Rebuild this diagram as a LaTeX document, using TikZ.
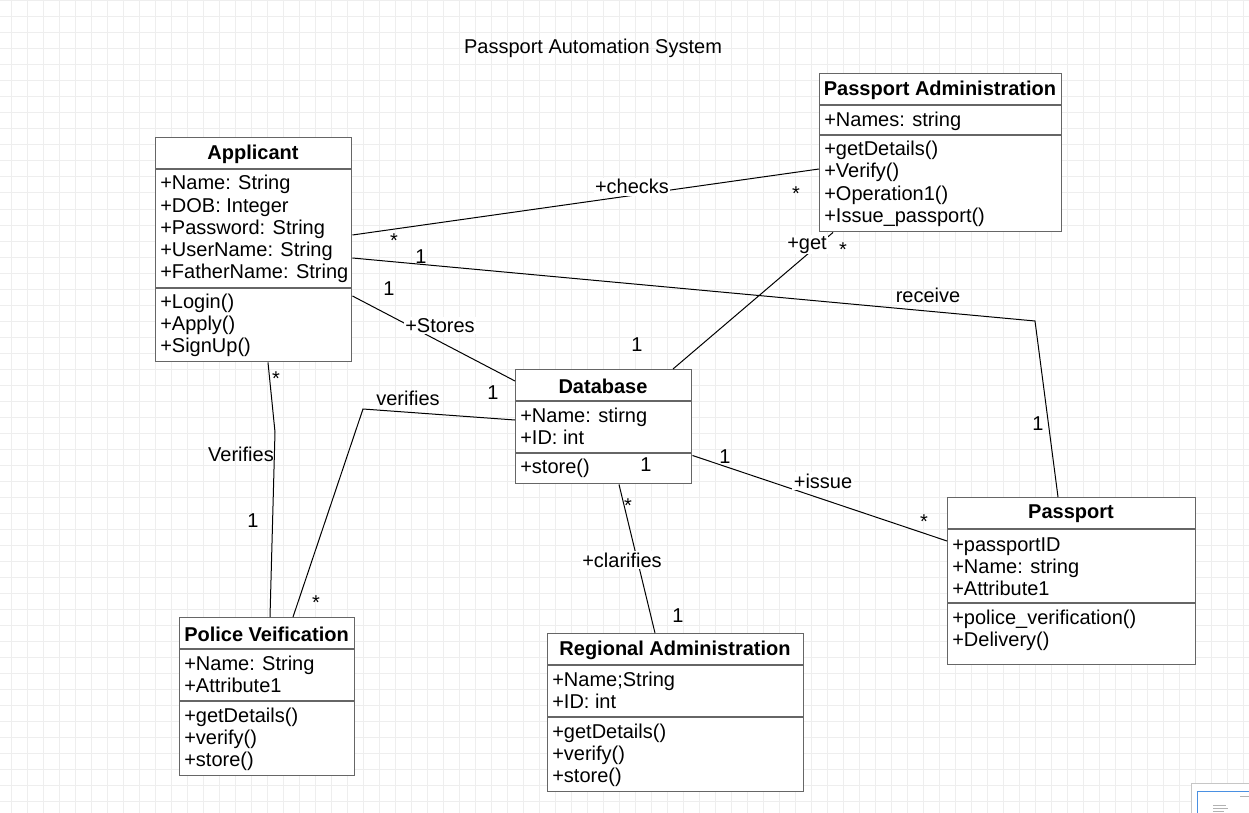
\documentclass[tikz,border=0pt]{standalone}
\usepackage{fontspec}
\setmainfont{Liberation Sans}
\usetikzlibrary{calc}
\definecolor{gridc}{HTML}{EEEEEE}
\definecolor{boxc}{HTML}{666666}
\definecolor{minib}{HTML}{4A90E2}
\begin{document}
\begin{tikzpicture}[x=0.75pt,y=-0.75pt,
  font=\fontsize{15}{18}\selectfont,
  classbox/.style={draw=boxc, line width=1.1pt, fill=white, anchor=north west, inner sep=0pt},
  sepline/.style={draw=boxc, line width=1.1pt},
  ctitle/.style={font=\fontsize{15}{18}\selectfont\bfseries, inner sep=0pt},
  member/.style={anchor=base west, inner sep=0pt},
  conn/.style={draw=black, line width=0.75pt},
  lbl/.style={anchor=base, inner sep=1pt, fill=white},
  lblclear/.style={anchor=base, inner sep=1pt},
  mult/.style={anchor=base, inner sep=0pt}]
\useasboundingbox (0,0) rectangle (1249,813);
\fill[white] (0,0) rectangle (1249,813);
% grid
\foreach \x in {11,27,...,1249} \draw[gridc, line width=0.75pt] (\x,0) -- (\x,813);
\foreach \y in {1,17,...,813} \draw[gridc, line width=0.75pt] (0,\y) -- (1249,\y);

% title
\node[anchor=base] (title) at (593,54) {Passport Automation System};

% ---------- Applicant
\node[classbox, minimum width=147pt, minimum height=168pt] (app) at (155,137) {};
\draw[sepline] ($(app.north west)+(0,32)$) -- ($(app.north east)+(0,32)$);
\draw[sepline] ($(app.north west)+(0,151)$) -- ($(app.north east)+(0,151)$);
\node[ctitle] (appt) at (253,154) {Applicant};
\node[member] (appa1) at (160,190) {+Name: String};
\node[member] (appa2) at (160,212) {+DOB: Integer};
\node[member] (appa3) at (160,234) {+Password: String};
\node[member] (appa4) at (160,256) {+UserName: String};
\node[member] (appa5) at (160,278) {+FatherName: String};
\node[member] (appm1) at (160,308) {+Login()};
\node[member] (appm2) at (160,330) {+Apply()};
\node[member] (appm3) at (160,352) {+SignUp()};

% ---------- Passport Administration
\node[classbox, minimum width=181.5pt, minimum height=118.5pt] (padm) at (819,73) {};
\draw[sepline] ($(padm.north west)+(0,32)$) -- ($(padm.north east)+(0,32)$);
\draw[sepline] ($(padm.north west)+(0,62)$) -- ($(padm.north east)+(0,62)$);
\node[ctitle] (padmt) at (940,90) {Passport Administration};
\node[member] (padma1) at (824,127) {+Names: string};
\node[member] (padmm1) at (824,156) {+getDetails()};
\node[member] (padmm2) at (824,178) {+Verify()};
\node[member] (padmm3) at (824,200) {+Operation1()};
\node[member] (padmm4) at (824,222) {+Issue\_passport()};

% ---------- Database
\node[classbox, minimum width=132pt, minimum height=85.5pt] (db) at (515,369) {};
\draw[sepline] ($(db.north west)+(0,32)$) -- ($(db.north east)+(0,32)$);
\draw[sepline] ($(db.north west)+(0,84)$) -- ($(db.north east)+(0,84)$);
\node[ctitle] (dbt) at (603,386) {Database};
\node[member] (dba1) at (520,422) {+Name: stirng};
\node[member] (dba2) at (520,444) {+ID: int};
\node[member] (dbm1) at (520,473) {+store()};

% ---------- Passport
\node[classbox, minimum width=186pt, minimum height=125.25pt] (pass) at (947,497) {};
\draw[sepline] ($(pass.north west)+(0,32)$) -- ($(pass.north east)+(0,32)$);
\draw[sepline] ($(pass.north west)+(0,106)$) -- ($(pass.north east)+(0,106)$);
\node[ctitle] (passt) at (1071,514) {Passport};
\node[member] (passa1) at (952,551) {+passportID};
\node[member] (passa2) at (952,573) {+Name: string};
\node[member] (passa3) at (952,595) {+Attribute1};
\node[member] (passm1) at (952,624) {+police\_verification()};
\node[member] (passm2) at (952,646) {+Delivery()};

% ---------- Police Veification
\node[classbox, minimum width=131.25pt, minimum height=118.5pt] (pol) at (179,617) {};
\draw[sepline] ($(pol.north west)+(0,32)$) -- ($(pol.north east)+(0,32)$);
\draw[sepline] ($(pol.north west)+(0,84)$) -- ($(pol.north east)+(0,84)$);
\node[ctitle] (polt) at (266.5,634) {Police Veification};
\node[member] (pola1) at (184,670) {+Name: String};
\node[member] (pola2) at (184,692) {+Attribute1};
\node[member] (polm1) at (184,722) {+getDetails()};
\node[member] (polm2) at (184,744) {+verify()};
\node[member] (polm3) at (184,766) {+store()};

% ---------- Regional Administration
\node[classbox, minimum width=192pt, minimum height=118.5pt] (reg) at (547,633) {};
\draw[sepline] ($(reg.north west)+(0,32)$) -- ($(reg.north east)+(0,32)$);
\draw[sepline] ($(reg.north west)+(0,84)$) -- ($(reg.north east)+(0,84)$);
\node[ctitle] (regt) at (675,650) {Regional Administration};
\node[member] (rega1) at (552,686) {+Name;String};
\node[member] (rega2) at (552,708) {+ID: int};
\node[member] (regm1) at (552,738) {+getDetails()};
\node[member] (regm2) at (552,760) {+verify()};
\node[member] (regm3) at (552,782) {+store()};

% ---------- connectors
\coordinate (recvbend) at (1035,321);
\coordinate (verbend) at (275,432);
\coordinate (verbend2) at (363,409);
\draw[conn] ($(app.north east)+(0,98)$) -- ($(padm.north west)+(0,96)$);
\draw[conn] ($(app.north east)+(0,121)$) -- (recvbend) -- ($(pass.north west)+(111,0)$);
\draw[conn] ($(app.north east)+(0,159)$) -- ($(db.north west)+(0,12)$);
\draw[conn] ($(db.north west)+(158,0)$) -- ($(padm.south west)+(14,0)$);
\draw[conn] ($(app.south west)+(113,0)$) -- (verbend) -- ($(pol.north west)+(91,0)$);
\draw[conn] ($(db.north west)+(0,51)$) -- (verbend2) -- ($(pol.north west)+(114,0)$);
\draw[conn] ($(db.south east)+(0,-29)$) -- ($(pass.north west)+(0,44)$);
\draw[conn] ($(db.south west)+(104,0)$) -- ($(reg.north west)+(108,0)$);

% ---------- connector labels
\node[lbl] (lchecks) at (632,194) {+checks};
\node[lblclear] (lreceive) at (928,302) {receive};
\node[lbl] (lstores) at (440,332) {+Stores};
\node[lbl] (lget) at (807,249) {+get};
\node[lblclear] (lVerifies) at (241,461) {Verifies};
\node[lblclear] (lverifies) at (408,405) {verifies};
\node[lbl] (lissue) at (823,488) {+issue};
\node[lbl] (lclar) at (622,567) {+clarifies};

% ---------- multiplicities
\node[mult] (s1) at (394,247) {*};
\node[mult] (s2) at (796,200) {*};
\node[mult] (s3) at (843,256) {*};
\node[mult] (s4) at (276,385) {*};
\node[mult] (s5) at (316,609) {*};
\node[mult] (s6) at (628,512) {*};
\node[mult] (s7) at (924,528) {*};
\node[mult] (o1) at (421,263) {1};
\node[mult] (o2) at (1038,430) {1};
\node[mult] (o3) at (389,295) {1};
\node[mult] (o4) at (493,399) {1};
\node[mult] (o5) at (637,351) {1};
\node[mult] (o6) at (253,527) {1};
\node[mult] (o7) at (725,463) {1};
\node[mult] (o8) at (646,471) {1};
\node[mult] (o9) at (678,622) {1};

% ---------- minimap in the corner
\node[draw=gray!45, line width=0.75pt, fill=white, anchor=north west, inner sep=0pt,
      minimum width=46pt, minimum height=24pt] (mini) at (1191,783) {};
\node[draw=minib, line width=0.9pt, anchor=north west, inner sep=0pt,
      minimum width=42pt, minimum height=18pt] (minivp) at (1197,791) {};
\draw[gray!60, line width=0.6pt] (1213,805) -- (1226,805) (1213,808) -- (1228,808) (1213,811) -- (1224,811) (1240,796) -- (1249,796);
\end{tikzpicture}
\end{document}
